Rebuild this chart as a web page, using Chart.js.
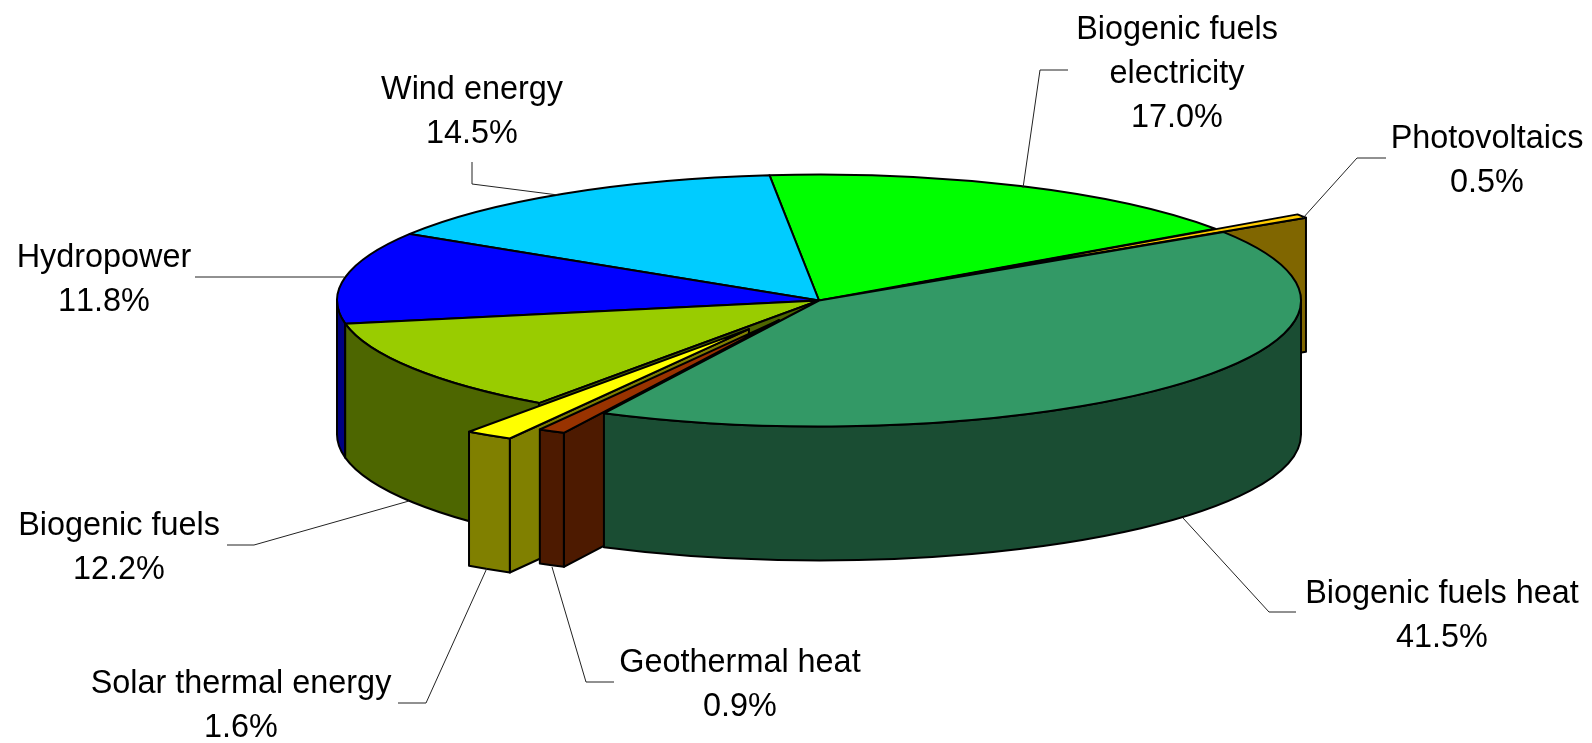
<!DOCTYPE html>
<html>
<head>
<meta charset="utf-8">
<title>Renewable energy shares</title>
<script src="https://cdn.jsdelivr.net/npm/chart.js@4/dist/chart.umd.js"></script>
<style>
  html, body { margin: 0; padding: 0; background: #fff; }
  canvas { display: block; }
</style>
</head>
<body>
<canvas id="pie3d" width="1592" height="743"></canvas>
<script>
const categories = ['Biogenic fuels electricity', 'Photovoltaics', 'Biogenic fuels heat', 'Geothermal heat',
  'Solar thermal energy', 'Biogenic fuels', 'Hydropower', 'Wind energy'];
const shares = [17.0, 0.5, 41.5, 0.9, 1.6, 12.2, 11.8, 14.5];

const topColors = ['#00ff00', '#ffcc00', '#339966', '#993300', '#ffff00', '#99cc00', '#0000ff', '#00ccff'];
const wallColors = ['#008000', '#806600', '#1a4d33', '#4d1a00', '#808000', '#4d6600', '#000080', '#006680'];
// how far a slice is pulled out of the pie. Not the offset option, that one also narrows thin slices
const explode = [0, 99, 0, 85, 130, 0, 0, 0];

// the pie is drawn flat by Chart.js and squashed to look tilted
const tilt = 0.2614;
const depth = 134;

// one entry per slice: text lines with centre x and first baseline, then the leader line
const labelLayout = [
  { lines: ['Biogenic fuels', 'electricity'], x: 1177, y: 39, leader: [[1068, 70], [1040, 70], [1023, 188]] },
  { lines: ['Photovoltaics'], x: 1487, y: 148, leader: [[1386, 158], [1357, 158], [1303, 218]] },
  { lines: ['Biogenic fuels heat'], x: 1442, y: 603, leader: [[1296, 612], [1269, 612], [1183, 518]] },
  { lines: ['Geothermal heat'], x: 740, y: 672, leader: [[614, 682], [586, 682], [552, 567]] },
  { lines: ['Solar thermal energy'], x: 241, y: 693, leader: [[398, 703], [426, 703], [487, 568]] },
  { lines: ['Biogenic fuels'], x: 119, y: 535, leader: [[227, 545], [254, 545], [409, 501]] },
  { lines: ['Hydropower'], x: 104, y: 267, leader: [[195, 277], [344, 277]] },
  { lines: ['Wind energy'], x: 472, y: 99, leader: [[472, 162], [472, 184], [558, 195]] }
];

function sliceGeometry(arc, i) {
  const half = (arc.startAngle + arc.endAngle) / 2;
  const dx = Math.cos(half) * explode[i];
  const dy = Math.sin(half) * explode[i];
  return { dx, dy, x: arc.x + dx, y: arc.y + dy * tilt, r: arc.outerRadius, a0: arc.startAngle, a1: arc.endAngle };
}

function outline(ctx) {
  ctx.lineWidth = 2;
  ctx.lineJoin = 'round';
  ctx.strokeStyle = '#000';
  ctx.stroke();
}

function drawTop(ctx, arcs, i) {
  const arc = arcs[i];
  const g = sliceGeometry(arc, i);
  ctx.save();
  ctx.translate(arc.x, arc.y);
  ctx.scale(1, tilt);
  ctx.translate(-arc.x + g.dx, -arc.y + g.dy);
  arc.draw(ctx);
  ctx.restore();

  ctx.beginPath();
  ctx.moveTo(g.x, g.y);
  ctx.ellipse(g.x, g.y, g.r, g.r * tilt, 0, g.a0, g.a1);
  ctx.closePath();
  outline(ctx);
}

function drawOuterWall(ctx, arcs, i) {
  const g = sliceGeometry(arcs[i], i);
  const from = Math.max(g.a0, 0);
  const to = Math.min(g.a1, Math.PI);
  if (from >= to) return;
  ctx.beginPath();
  ctx.ellipse(g.x, g.y, g.r, g.r * tilt, 0, from, to);
  ctx.ellipse(g.x, g.y + depth, g.r, g.r * tilt, 0, to, from, true);
  ctx.closePath();
  ctx.fillStyle = wallColors[i];
  ctx.fill();
  outline(ctx);
}

function drawCutFace(ctx, arcs, i, angle) {
  const g = sliceGeometry(arcs[i], i);
  const px = g.x + g.r * Math.cos(angle);
  const py = g.y + g.r * tilt * Math.sin(angle);
  ctx.beginPath();
  ctx.moveTo(g.x, g.y);
  ctx.lineTo(px, py);
  ctx.lineTo(px, py + depth);
  ctx.lineTo(g.x, g.y + depth);
  ctx.closePath();
  ctx.fillStyle = wallColors[i];
  ctx.fill();
  outline(ctx);
}

const pie3dPlugin = {
  id: 'pie3d',
  beforeDatasetsDraw(chart) {
    const ctx = chart.ctx;
    const arcs = chart.getDatasetMeta(0).data;
    const [green, pv, heat, geo, solar, fuels, hydro, wind] = [0, 1, 2, 3, 4, 5, 6, 7];

    // back to front
    [green, wind, hydro, fuels].forEach(i => drawTop(ctx, arcs, i));

    drawCutFace(ctx, arcs, pv, arcs[pv].endAngle);
    drawTop(ctx, arcs, pv);

    drawOuterWall(ctx, arcs, hydro);
    drawOuterWall(ctx, arcs, fuels);
    drawCutFace(ctx, arcs, fuels, arcs[fuels].startAngle);

    drawCutFace(ctx, arcs, solar, arcs[solar].startAngle);
    drawOuterWall(ctx, arcs, solar);
    drawTop(ctx, arcs, solar);

    drawCutFace(ctx, arcs, geo, arcs[geo].startAngle);
    drawOuterWall(ctx, arcs, geo);

    drawOuterWall(ctx, arcs, heat);
    drawTop(ctx, arcs, heat);
    drawTop(ctx, arcs, geo);
    return false;
  },
  afterDraw(chart) {
    const ctx = chart.ctx;
    ctx.save();
    labelLayout.forEach((item, i) => {
      ctx.beginPath();
      item.leader.forEach((p, k) => (k ? ctx.lineTo(p[0], p[1]) : ctx.moveTo(p[0], p[1])));
      ctx.lineWidth = 1;
      ctx.strokeStyle = '#222';
      ctx.stroke();

      ctx.font = '32.4px "Liberation Sans", Arial, sans-serif';
      ctx.fontKerning = 'none';
      ctx.fillStyle = '#000';
      ctx.textAlign = 'center';
      ctx.textBaseline = 'alphabetic';
      const rows = item.lines.concat(shares[i].toFixed(1) + '%');
      rows.forEach((row, k) => ctx.fillText(row, item.x, item.y + k * 44));
    });
    ctx.restore();
  }
};

new Chart(document.getElementById('pie3d').getContext('2d'), {
  type: 'pie',
  data: {
    labels: categories,
    datasets: [{
      data: shares,
      backgroundColor: topColors,
      borderWidth: 0,
      radius: 482
    }]
  },
  options: {
    responsive: false,
    animation: false,
    events: [],
    rotation: -5.9,
    layout: { padding: { left: 46, bottom: 142 } },
    plugins: { legend: { display: false }, tooltip: { enabled: false } }
  },
  plugins: [pie3dPlugin]
});
</script>
</body>
</html>
